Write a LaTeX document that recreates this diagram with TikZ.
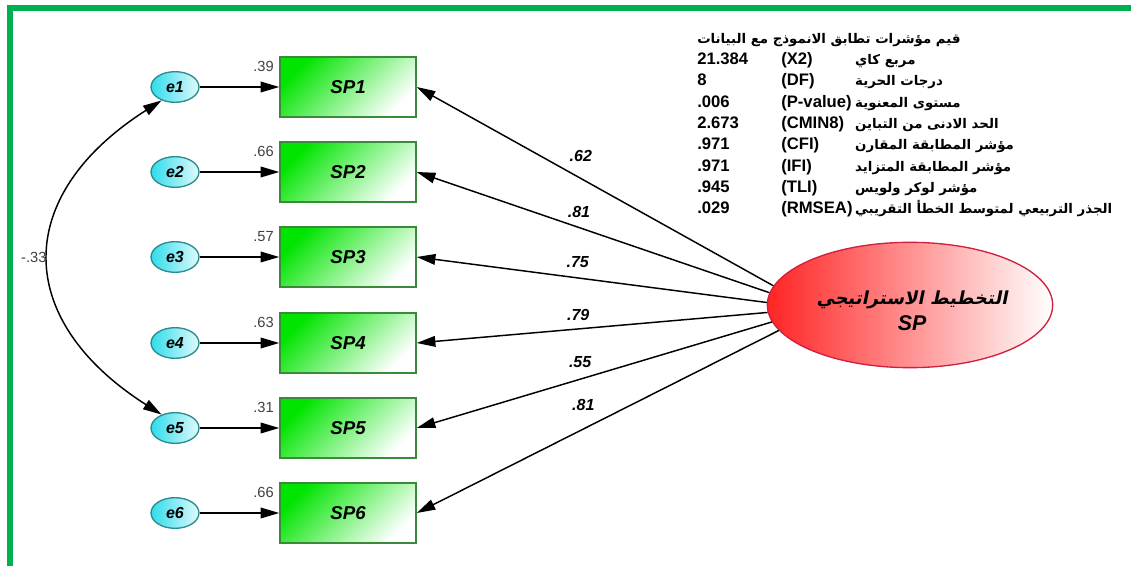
\documentclass[tikz,border=0pt]{standalone}
\usepackage{fontspec}
\setmainfont{Liberation Sans}
\newfontfamily\arabicfont[Script=Arabic,Scale=0.8]{DejaVu Sans}
\newfontfamily\arabicslant[Script=Arabic,FakeSlant=0.2]{DejaVu Sans Bold}
\TeXXeTstate=1
\usetikzlibrary{arrows.meta,shapes.geometric}
\definecolor{framegreen}{HTML}{00B050}
\definecolor{boxline}{HTML}{3A8A3A}
\definecolor{boxfill}{HTML}{00E400}
\definecolor{errline}{HTML}{2A8C8C}
\definecolor{errfill}{HTML}{30DCEC}
\definecolor{latline}{HTML}{D02040}
\definecolor{latfill}{HTML}{FF2424}
\definecolor{ldgray}{HTML}{404040}

\begin{document}
\begin{tikzpicture}[x=0.75pt,y=-0.75pt,
  obs/.style={draw=boxline,line width=1.1pt,minimum width=102pt,minimum height=45pt,
    top color=boxfill,middle color=boxfill!45!white,bottom color=white,shading angle=45,
    font=\fontsize{14}{14}\selectfont\bfseries\itshape},
  err/.style={ellipse,draw=errline,line width=1pt,minimum width=36pt,minimum height=23pt,inner sep=0pt,
    left color=errfill,right color=errfill!15!white,
    font=\fontsize{12}{12}\selectfont\bfseries\itshape},
  lat/.style={ellipse,draw=latline,line width=1pt,minimum width=214pt,minimum height=94pt,
    left color=latfill,right color=white},
  path/.style={line width=1.1pt,-{Triangle[length=14pt,width=8pt]}},
  cov/.style={line width=1.1pt,{Triangle[length=14pt,width=8pt]}-{Triangle[length=14pt,width=8pt]}},
  ld/.style={text=ldgray,inner sep=0pt,font=\fontsize{11}{11}\selectfont},
  coef/.style={inner sep=0pt,font=\fontsize{12}{12}\selectfont\bfseries\itshape}]
\useasboundingbox (0,0) rectangle (1131,566);
%----frame----------------------------------------
\draw[framegreen,line width=4.5pt] (10,566) -- (10,8) -- (1131,8);
%----indicators and errors------------------------
\foreach \i/\rsq/\yy in {1/.39/87, 2/.66/172, 3/.57/257, 4/.63/343, 5/.31/428, 6/.66/513}{
  \node[obs] (sp\i) at (348,\yy) {SP\i};
  \node[err] (e\i) at (175,\yy) {e\i};
  \draw[path] (e\i) -- (sp\i);
  \node[ld,anchor=east] (r\i) at ([xshift=-4pt,yshift=-7.5pt]sp\i.north west) {\rsq};
}
%----covariance-----------------------------------
\draw[cov] (e1.225) .. controls +(-149,95) and +(-149,-95) .. node[ld,pos=0.5,left=2pt] (cv) {-.33} (e5.135);
%----latent variable------------------------------
\node[lat] (sp) at (910,305) {};
\node[align=center,font=\fontsize{16}{19.5}\selectfont\bfseries\itshape] (sptext) at (912,311)
  {{\arabicslant\mdseries\upshape\fontsize{13.5}{19.5}\selectfont\beginR التخطيط الاستراتيجي\endR}\\SP};
\foreach \i/\a/\w/\d in {1/172/.62/12, 2/175/.81/7, 3/179/.75/7, 4/183/.79/6, 5/187/.55/8, 6/191/.81/13.5}
  \draw[path] (sp.\a) -- node[coef,pos=0.54,above=\d pt] (w\i) {\w} (sp\i.east);
%----fit indices----------------------------------
\node[anchor=north west,inner sep=0pt,font=\fontsize{12.5}{16}\selectfont\bfseries] (fit) at (697,28) {%
  \begin{tabular}{@{}p{63pt}@{}l@{\hspace{2pt}}l@{}}
  \multicolumn{3}{@{}l@{}}{\arabicfont\beginR قيم مؤشرات تطابق الانموذج مع البيانات\endR}\\
  21.384 & (X2) & {\arabicfont\beginR مربع كاي\endR}\\
  8 & (DF) & {\arabicfont\beginR درجات الحرية\endR}\\
  .006 & (P-value) & {\arabicfont\beginR مستوى المعنوية\endR}\\
  2.673 & (CMIN8) & {\arabicfont\beginR الحد الادنى من التباين\endR}\\
  .971 & (CFI) & {\arabicfont\beginR مؤشر المطابقة المقارن\endR}\\
  .971 & (IFI) & {\arabicfont\beginR مؤشر المطابقة المتزايد\endR}\\
  .945 & (TLI) & {\arabicfont\beginR مؤشر لوكر ولويس\endR}\\
  .029 & (RMSEA) & {\arabicfont\beginR الجذر التربيعي لمتوسط الخطأ التقريبي\endR}
  \end{tabular}};
\end{tikzpicture}
\end{document}
